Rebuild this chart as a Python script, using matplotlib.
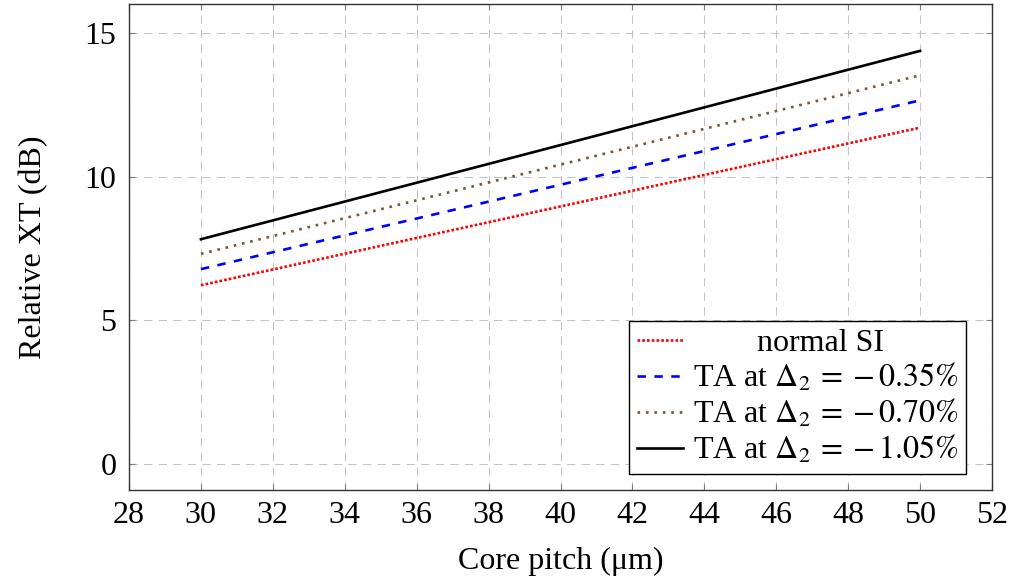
import matplotlib
matplotlib.use("Agg")
import matplotlib.pyplot as plt

core_pitch = [30, 50]
normal_si = [6.22, 11.70]
ta_035 = [6.78, 12.65]
ta_070 = [7.31, 13.52]
ta_105 = [7.82, 14.37]

labels = ["        normal SI",
          r"TA at $\Delta_2\:=\:-\,0.35\%$",
          r"TA at $\Delta_2\:=\:-\,0.70\%$",
          r"TA at $\Delta_2\:=\:-\,1.05\%$"]
xticks = [28, 30, 32, 34, 36, 38, 40, 42, 44, 46, 48, 50, 52]
yticks = [0, 5, 10, 15]

plt.rcParams['font.family'] = ['Liberation Serif', 'DejaVu Serif']
plt.rcParams['mathtext.fontset'] = 'stix'
plt.rcParams['font.size'] = 23

fig = plt.figure(figsize=(10.11, 5.82), dpi=100)
ax = fig.add_axes([129/1011, 1-490/582, (992-129)/1011, (490-4)/582])

lw = 1.9
ax.plot(core_pitch, normal_si, color='red', lw=lw, linestyle=(0, (1, 0.8)), label=labels[0])
ax.plot(core_pitch, ta_035, color='blue', lw=lw, linestyle=(0, (3.2, 3.2)), label=labels[1])
ax.plot(core_pitch, ta_070, color='#75583a', lw=lw, linestyle=(0, (1, 2.2)), label=labels[2])
ax.plot(core_pitch, ta_105, color='black', lw=lw, linestyle='-', label=labels[3])

ax.set_xlim(28, 52)
ax.set_ylim(-0.9, 16.0)
ax.set_xticks(xticks)
ax.set_yticks(yticks)
ax.grid(True, color='#c4c4c4', lw=0.75, linestyle=(0, (8, 6)))
ax.set_axisbelow(True)
ax.tick_params(direction='in', length=4.5, width=0.8, color='#808080',
               top=True, right=True, labelcolor='black')
ax.tick_params(axis='x', pad=8)
ax.tick_params(axis='y', pad=9)
for s in ax.spines.values():
    s.set_color('#333333')
    s.set_linewidth(1.0)

ax.set_xlabel(u"Core pitch (\u03bcm)", labelpad=12)
ax.set_ylabel("Relative XT (dB)", labelpad=26)

leg = ax.legend(loc='lower right', bbox_to_anchor=(0.970, 0.033), borderaxespad=0,
                fancybox=False, framealpha=1, edgecolor='black', handlelength=1.45,
                handletextpad=0.3, labelspacing=0.12, borderpad=0.25)
leg.get_frame().set_linewidth(1.0)

fig.savefig("out.png", dpi=100)
